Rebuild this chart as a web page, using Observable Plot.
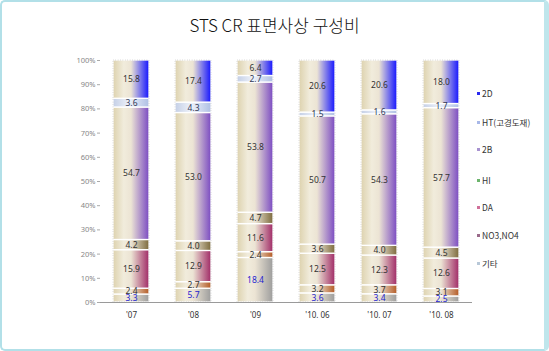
<!DOCTYPE html>
<html><head><meta charset="utf-8">
<script src="https://cdn.jsdelivr.net/npm/d3@7"></script>
<script src="https://cdn.jsdelivr.net/npm/@observablehq/plot@0.6"></script>
<style>
body{margin:0;background:#fff;font-family:"Noto Sans CJK KR","Noto Sans",sans-serif;}
#wrap{position:relative;width:549px;height:351px;overflow:hidden;background:#fff;}
#frame{position:absolute;left:0;top:0;width:549px;height:351px;box-sizing:border-box;border:2px solid #b2e0e8;border-right:5px solid #bfe6ec;border-radius:5px;pointer-events:none;}
#title{position:absolute;left:0;width:549px;top:12px;text-align:center;font-size:17px;color:#111;font-weight:300;}
#chart{position:absolute;left:0;top:40px;}
#legend{position:absolute;left:477px;top:0;font-size:8.5px;color:#333;}
#legend div{position:absolute;white-space:nowrap;line-height:10px;}
#legend i{display:inline-block;width:3px;height:3px;margin-right:2px;vertical-align:middle;position:relative;top:-1px;}
</style></head>
<body>
<div id="wrap">
  <div id="title">STS CR 표면사상 구성비</div>
  <div id="chart"></div>
  <div id="legend"></div>
  <div id="frame"></div>
</div>
<script>
// categories
const periods = ["'07", "'08", "'09", "'10. 06", "'10. 07", "'10. 08"];
// series, stacking order bottom -> top
const seriesNames = ["기타", "NO3,NO4", "DA", "HI", "2B", "HT(고경도재)", "2D"];
// values per series (one per period)
const etc    = [3.3, 5.7, 18.4, 3.6, 3.4, 2.5];
const no3no4 = [2.4, 2.7, 2.4, 3.2, 3.7, 3.1];
const da     = [15.9, 12.9, 11.6, 12.5, 12.3, 12.6];
const hi     = [4.2, 4.0, 4.7, 3.6, 4.0, 4.5];
const s2b    = [54.7, 53.0, 53.8, 50.7, 54.3, 57.7];
const ht     = [3.6, 4.3, 2.7, 1.5, 1.6, 1.7];
const s2d    = [15.8, 17.4, 6.4, 20.6, 20.6, 18.0];
const yTicks = [0, 0.1, 0.2, 0.3, 0.4, 0.5, 0.6, 0.7, 0.8, 0.9, 1];

const valueArrays = [etc, no3no4, da, hi, s2b, ht, s2d];
const data = [];
periods.forEach((p, i) => {
  seriesNames.forEach((s, j) => data.push({period: p, series: s, value: valueArrays[j][i]}));
});

const segColors = {
  "기타": "#9c9c9c",
  "NO3,NO4": "#b45a24",
  "DA": "#a02a66",
  "HI": "#7c6a3c",
  "2B": "#7a4ac2",
  "HT(고경도재)": "#b4c4e6",
  "2D": "#1414ff"
};
const labelColors = {"기타": "#2424d0", "HT(고경도재)": "#333a55"};
const legendColors = {
  "2D": "#2a2af0", "HT(고경도재)": "#a8b8e8", "2B": "#a892d0", "HI": "#6cb46c",
  "DA": "#d0709a", "NO3,NO4": "#9a6a8a", "기타": "#b8c8d8"
};
const gid = s => "g" + seriesNames.indexOf(s);

const stackOpts = {x: "period", y: "value", z: "series", order: seriesNames, offset: "normalize"};

const plot = Plot.plot({
  width: 549,
  height: 311,
  marginTop: 20,
  marginBottom: 49,
  marginLeft: 100,
  marginRight: 77,
  style: {fontFamily: "'Noto Sans', sans-serif", background: "transparent"},
  x: {domain: periods, paddingInner: 0.42, paddingOuter: 0.2, label: null},
  y: {domain: [0, 1], label: null},
  color: {type: "ordinal", domain: seriesNames, range: seriesNames.map(s => `url(#${gid(s)})`)},
  marks: [
    Plot.axisY({ticks: yTicks, tickFormat: d => Math.round(d * 100) + "%", tickSize: 3, tickPadding: 2, fontSize: 7.5, color: "#888", stroke: "#aaa"}),
    Plot.axisX({tickSize: 0, tickPadding: 10, fontSize: 8, color: "#333"}),
    Plot.barY(data, Plot.stackY({...stackOpts, fill: "series", stroke: "white", strokeWidth: 1.3})),
    Plot.barY(periods, {x: d => d, y1: 0, y2: 1, fill: "none", stroke: "#a0a0a0", strokeWidth: 0.6, strokeDasharray: "0.6,1.8"}),
    Plot.text(data, Plot.stackY({...stackOpts, text: d => d.value.toFixed(1), fontSize: 8.5, fill: d => labelColors[d.series] || "#333"})),
    Plot.ruleY([0], {stroke: "#9a9a9a"})
  ]
});

// gradient definitions for the bar fills
const ns = "http://www.w3.org/2000/svg";
const defs = document.createElementNS(ns, "defs");
seriesNames.forEach(s => {
  const g = document.createElementNS(ns, "linearGradient");
  g.setAttribute("id", gid(s));
  g.setAttribute("x1", "0"); g.setAttribute("x2", "1"); g.setAttribute("y1", "0"); g.setAttribute("y2", "0");
  const stops = s === "HT(고경도재)"
    ? [[0, "#c4cfe6"], [0.45, "#eef2fa"], [1, "#aebfe4"]]
    : [[0, "#ddd2ae"], [0.3, "#f1ecdc"], [0.5, "#ece4d4"], [1, segColors[s]]];
  stops.forEach(([o, c]) => {
    const st = document.createElementNS(ns, "stop");
    st.setAttribute("offset", o); st.setAttribute("stop-color", c);
    g.appendChild(st);
  });
  defs.appendChild(g);
});
plot.insertBefore(defs, plot.firstChild);
document.getElementById("chart").appendChild(plot);

// legend (top to bottom)
const legendOrder = [...seriesNames].reverse();
const legendY = [88, 117, 144, 175, 202, 230, 258];
const lg = document.getElementById("legend");
legendOrder.forEach((s, i) => {
  const d = document.createElement("div");
  d.style.top = legendY[i] + "px";
  d.innerHTML = `<i style="background:${legendColors[s]}"></i>${s}`;
  lg.appendChild(d);
});
</script>
</body></html>
